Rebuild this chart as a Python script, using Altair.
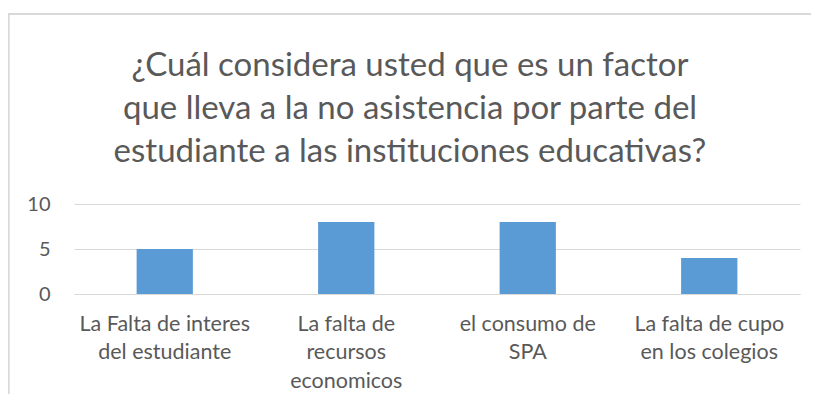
import altair as alt
import pandas as pd

categories = [
    "La Falta de interes|del estudiante",
    "La falta de|recursos|economicos",
    "el consumo de|SPA",
    "La falta de cupo|en los colegios",
]
values = [5, 8, 8, 4]
title_lines = [
    "¿Cuál considera usted que es un factor",
    "que lleva a la no asistencia por parte del",
    "estudiante a las instituciones educativas?",
]
y_ticks = [0, 5, 10]

df = pd.DataFrame({"cat": categories, "val": values})
FONT = "Lato"
GRAY = "#595959"

bars = alt.Chart(df).mark_bar(color="#5B9BD5").encode(
    x=alt.X(
        "cat:N",
        sort=categories,
        title=None,
        scale=alt.Scale(paddingInner=0.69, paddingOuter=0.345),
        axis=alt.Axis(
            labelExpr="split(datum.label, '|')",
            labelAngle=0,
            labelFont=FONT,
            labelFontSize=21.5,
            labelColor=GRAY,
            labelLineHeight=28.5,
            labelPadding=19,
            labelBaseline="top",
            ticks=False,
            domainColor="#d9d9d9",
            domainWidth=1,
        ),
    ),
    y=alt.Y(
        "val:Q",
        title=None,
        scale=alt.Scale(domain=[0, 10]),
        axis=alt.Axis(
            values=y_ticks,
            labelFont=FONT,
            labelFontSize=20,
            labelColor=GRAY,
            labelPadding=24,
            ticks=False,
            domain=False,
            gridColor="#d9d9d9",
            gridWidth=1,
        ),
    ),
)

frame_left = alt.Chart(df).mark_rule(color="#d9d9d9", strokeWidth=1.5).encode(
    x=alt.value(-65.5), y=alt.value(-190), y2=alt.value(210)
)
frame_top = alt.Chart(df).mark_rule(color="#d9d9d9", strokeWidth=1.5).encode(
    x=alt.value(-66), x2=alt.value(760), y=alt.value(-190)
)

chart = alt.layer(frame_left, frame_top, bars).properties(
    width=726,
    height=90,
    padding={"left": 66, "top": 196, "right": 11, "bottom": 100},
    autosize=alt.AutoSizeParams(type="none"),
    title=alt.TitleParams(
        text=title_lines,
        font=FONT,
        fontSize=33,
        fontWeight="normal",
        color=GRAY,
        lineHeight=43,
        anchor="middle",
        dx=-27,
        offset=-156,
    ),
).configure_view(stroke=None)

chart.save("out.html", embed_options={"renderer": "svg", "actions": False})
